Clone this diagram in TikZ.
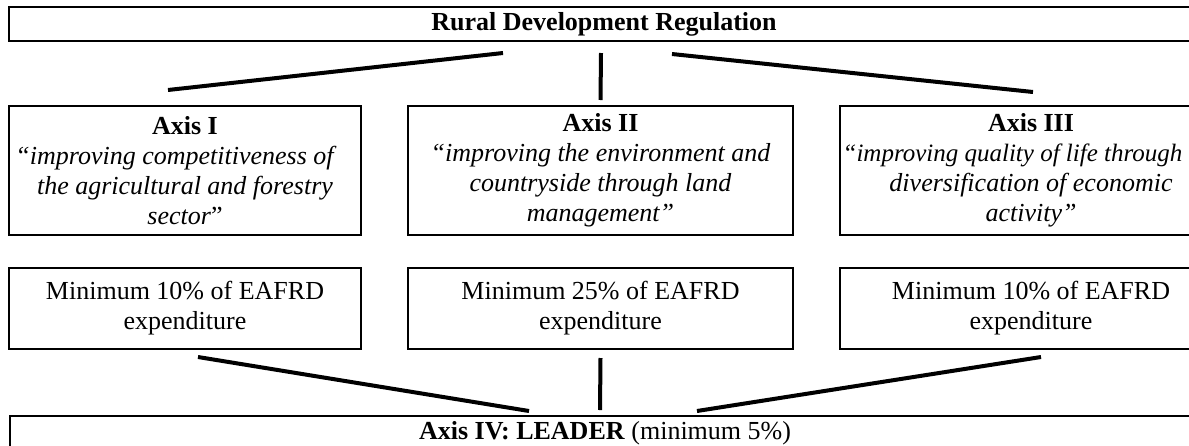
\documentclass[tikz,border=0pt]{standalone}
\usepackage{fontspec}
\setmainfont{Liberation Serif}
\usetikzlibrary{positioning}
\tikzstyle{wide} = [rectangle, draw, line width=2.5pt, outer sep=0pt, inner sep=0pt,
    minimum width=1190pt, minimum height=34pt, align=center]
\tikzstyle{axisbox} = [rectangle, draw, line width=2.5pt, outer sep=0pt, inner sep=0pt,
    minimum height=129pt, align=center]
\tikzstyle{minbox} = [rectangle, draw, line width=2.5pt, outer sep=0pt, inner sep=0pt,
    minimum height=81pt, align=center]
\tikzstyle{line} = [draw, line width=4pt]

\begin{document}
\begin{tikzpicture}[x=1pt,y=-1pt,font=\fontsize{26}{30}\selectfont]
    \useasboundingbox (0,0) rectangle (1189,445);
    % Place nodes
    \node [wide, anchor=north west] (rdr) at (9,7) {\textbf{Rural Development Regulation}};
    \node [axisbox, minimum width=385pt, anchor=north] (axisII) at (600.5,106)
        {\textbf{Axis II}\\ \textit{“improving the environment and}\\
         \textit{countryside through land}\\ \textit{management”}};
    \node [axisbox, minimum width=352pt, left=47pt of axisII] (axisI)
        {\textbf{Axis I}\\ \textit{“improving competitiveness of}\kern18pt\\
         \textit{the agricultural and forestry}\\ \textit{sector}”};
    \node [axisbox, minimum width=382pt, right=47pt of axisII] (axisIII)
        {\textbf{Axis III}\\
         \makebox[0pt]{\fontsize{25}{30}\selectfont\textit{“improving quality of life through}\kern37pt}\\
         \textit{diversification of economic}\\ \textit{activity”}};
    \node [minbox, minimum width=352pt, below=33pt of axisI] (minI) {Minimum 10\% of EAFRD\\ expenditure};
    \node [minbox, minimum width=385pt, below=33pt of axisII] (minII) {Minimum 25\% of EAFRD\\ expenditure};
    \node [minbox, minimum width=382pt, below=33pt of axisIII] (minIII) {Minimum 10\% of EAFRD\\ expenditure};
    \node [wide, anchor=north west] (leader) at (10,416) {\textbf{Axis IV: LEADER} (minimum 5\%)};
    % Draw edges
    \path [line] ([xshift=-101pt,yshift=-12pt]rdr.south) -- ([xshift=-17pt,yshift=16pt]axisI.north);
    \path [line] ([xshift=-3pt,yshift=-12pt]rdr.south) -- ([yshift=6pt]axisII.north);
    \path [line] ([xshift=68pt,yshift=-13pt]rdr.south) -- ([xshift=2pt,yshift=14pt]axisIII.north);
    \path [line] ([xshift=13pt,yshift=-8pt]minI.south) -- ([xshift=-76pt,yshift=5pt]leader.north);
    \path [line] ([yshift=-9pt]minII.south) -- ([xshift=-5pt,yshift=6pt]leader.north);
    \path [line] ([xshift=10pt,yshift=-8pt]minIII.south) -- ([xshift=92pt,yshift=5pt]leader.north);
\end{tikzpicture}
\end{document}
